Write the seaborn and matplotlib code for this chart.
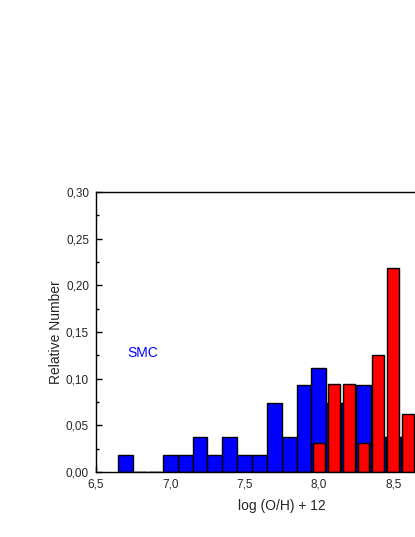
"""
plot.py — relative O/H abundance histograms (SMC vs. comparison sample).
"""

import numpy as np
import pandas as pd
import matplotlib
matplotlib.use("Agg")
import matplotlib.pyplot as plt
from matplotlib.ticker import MultipleLocator, FuncFormatter
import seaborn as sns

# ─── Data ───────────────────────────────────────────────────────────────────────

blue_centers = [6.7, 7.0, 7.1, 7.2, 7.3, 7.4, 7.5, 7.6, 7.7, 7.8, 7.9,
                8.0, 8.1, 8.2, 8.3, 8.4, 8.5, 8.6]
blue_values = [0.0185, 0.0185, 0.0185, 0.037, 0.0185, 0.037, 0.0185, 0.0185,
               0.074, 0.037, 0.093, 0.111, 0.074, 0.074, 0.093, 0.037,
               0.037, 0.037]

red_centers = [8.0, 8.1, 8.2, 8.3, 8.4, 8.5, 8.6]
red_values = [0.031, 0.094, 0.094, 0.031, 0.125, 0.219, 0.0625]

bin_edges = [round(v, 2) for v in np.arange(6.65, 8.70, 0.1)]

x_ticks = [6.5, 7.0, 7.5, 8.0, 8.5]
y_ticks = [0.00, 0.05, 0.10, 0.15, 0.20, 0.25, 0.30]

# ─── Style ──────────────────────────────────────────────────────────────────────

sns.set_theme(style="ticks")
plt.rcParams["font.family"] = ["Liberation Sans", "DejaVu Sans"]
plt.rcParams["axes.linewidth"] = 1.0

blue_df = pd.DataFrame({"x": blue_centers, "w": blue_values})
red_df = pd.DataFrame({"x": red_centers, "w": red_values})

fig = plt.figure(figsize=(4.15, 5.37), dpi=100)
ax = fig.add_axes([96 / 415, 65 / 537, 371.5 / 415, 280 / 537])

# SMC bars (full bin width) behind, comparison bars (narrower) in front
sns.histplot(data=blue_df, x="x", weights="w", bins=bin_edges, ax=ax,
             color="#0000ff", alpha=1, edgecolor="black", linewidth=1.0)
sns.histplot(data=red_df, x="x", weights="w", bins=bin_edges, ax=ax,
             color="#ff0000", alpha=1, edgecolor="black", linewidth=1.0,
             shrink=0.8)

ax.set_xlim(6.5, 9.0)
ax.set_ylim(0, 0.30)
ax.set_xticks(x_ticks)
ax.set_yticks(y_ticks)
ax.yaxis.set_minor_locator(MultipleLocator(0.025))

comma = lambda fmt: FuncFormatter(lambda v, _: format(v, fmt).replace(".", ","))
ax.xaxis.set_major_formatter(comma(".1f"))
ax.yaxis.set_major_formatter(comma(".2f"))

ax.tick_params(axis="both", which="major", direction="in", length=4,
               width=1, labelsize=8.5, pad=5, color="black")
ax.tick_params(axis="y", which="minor", direction="in", length=2.5,
               width=1, color="black")

for side in ["left", "top", "bottom", "right"]:
    ax.spines[side].set_visible(True)
    ax.spines[side].set_color("black")

ax.set_xlabel("log (O/H) + 12", fontsize=10, labelpad=6)
ax.set_ylabel("Relative Number", fontsize=10, labelpad=2)

ax.text(6.816, 0.1275, "SMC", color="#0000ff", fontsize=10,
        ha="center", va="center")

fig.savefig("out.png", dpi=100)
plt.close(fig)
